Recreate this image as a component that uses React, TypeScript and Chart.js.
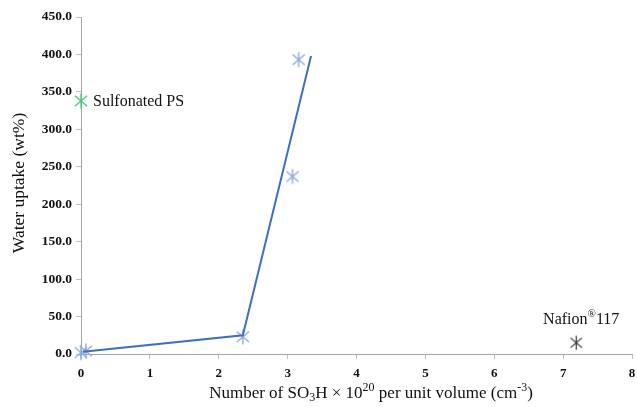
import React, { useEffect, useRef } from "react";
import { Chart, registerables } from "chart.js";

Chart.register(...registerables);

const lineX = [0.03, 2.35, 3.34];
const lineY = [3, 25, 398];
const sampleX = [0, 0.07, 2.35, 3.07, 3.16];
const sampleY = [2, 4, 23, 237, 393];
const psX = [0];
const psY = [338];
const nafionX = [7.19];
const nafionY = [15];
const yTicks = [0, 50, 100, 150, 200, 250, 300, 350, 400, 450];
const xTicks = [0, 1, 2, 3, 4, 5, 6, 7, 8];

const SERIF = "'Liberation Serif', 'Times New Roman', serif";

function makeStar(color: string, r: number, lw: number) {
  const c = document.createElement("canvas");
  const s = Math.ceil(r * 2 + lw * 2);
  c.width = s;
  c.height = s;
  const ctx = c.getContext("2d")!;
  ctx.strokeStyle = color;
  ctx.lineWidth = lw;
  const cx = s / 2;
  const cy = s / 2;
  ctx.beginPath();
  ctx.moveTo(cx, cy - r);
  ctx.lineTo(cx, cy + r);
  const d = r * 0.82;
  ctx.moveTo(cx - d, cy - d * 0.85);
  ctx.lineTo(cx + d, cy + d * 0.85);
  ctx.moveTo(cx + d, cy - d * 0.85);
  ctx.lineTo(cx - d, cy + d * 0.85);
  ctx.stroke();
  return c;
}

type Seg = { t: string; mode?: "sub" | "sup" };

function drawRich(ctx: CanvasRenderingContext2D, segs: Seg[], cx: number, baseline: number, size: number) {
  const small = Math.round(size * 0.68);
  let total = 0;
  for (const s of segs) {
    ctx.font = `${s.mode ? small : size}px ${SERIF}`;
    total += ctx.measureText(s.t).width;
  }
  let x = cx - total / 2;
  ctx.textAlign = "left";
  ctx.textBaseline = "alphabetic";
  for (const s of segs) {
    ctx.font = `${s.mode ? small : size}px ${SERIF}`;
    const dy = s.mode === "sub" ? size * 0.2 : s.mode === "sup" ? -size * 0.4 : 0;
    ctx.fillText(s.t, x, baseline + dy);
    x += ctx.measureText(s.t).width;
  }
}

const annotate = {
  id: "annotate",
  afterDraw(chart: any) {
    const ctx = chart.ctx as CanvasRenderingContext2D;
    const xs = chart.scales.x;
    const ys = chart.scales.y;
    ctx.save();
    ctx.fillStyle = "#111";
    // y title
    ctx.save();
    ctx.translate(19, 183);
    ctx.rotate(-Math.PI / 2);
    ctx.font = `17.5px ${SERIF}`;
    ctx.textAlign = "center";
    ctx.textBaseline = "middle";
    ctx.fillText("Water uptake (wt%)", 0, 0);
    ctx.restore();
    // x title
    drawRich(
      ctx,
      [
        { t: "Number of SO" },
        { t: "3", mode: "sub" },
        { t: "H × 10" },
        { t: "20", mode: "sup" },
        { t: " per unit volume (cm" },
        { t: "-3", mode: "sup" },
        { t: ")" },
      ],
      371,
      398,
      17
    );
    // Sulfonated PS label
    const px = xs.getPixelForValue(psX[0]);
    const py = ys.getPixelForValue(psY[0]);
    ctx.font = `16px ${SERIF}`;
    ctx.textAlign = "left";
    ctx.textBaseline = "middle";
    ctx.fillText("Sulfonated PS", px + 12, py + 1);
    // Nafion label
    const nx = xs.getPixelForValue(nafionX[0]);
    const ny = ys.getPixelForValue(nafionY[0]);
    drawRich(ctx, [{ t: "Nafion" }, { t: "®", mode: "sup" }, { t: "117" }], nx + 5, ny - 19, 16);
    ctx.restore();
  },
};

export default function App() {
  const ref = useRef<HTMLCanvasElement>(null);
  useEffect(() => {
    const blueStar = makeStar("#8ea9dc", 7.5, 1.4);
    const greenStar = makeStar("#4fc878", 7.5, 1.4);
    const blackStar = makeStar("#333333", 7, 1.2);
    const chart = new Chart(ref.current!, {
      type: "scatter",
      data: {
        datasets: [
          {
            data: lineX.map((x, i) => ({ x, y: lineY[i] })),
            showLine: true,
            borderColor: "#3e6fc0",
            borderWidth: 2,
            pointRadius: 0,
            clip: false,
          },
          {
            data: sampleX.map((x, i) => ({ x, y: sampleY[i] })),
            pointStyle: blueStar as any,
            clip: false,
          },
          {
            data: psX.map((x, i) => ({ x, y: psY[i] })),
            pointStyle: greenStar as any,
            clip: false,
          },
          {
            data: nafionX.map((x, i) => ({ x, y: nafionY[i] })),
            pointStyle: blackStar as any,
            clip: false,
          },
        ],
      },
      options: {
        responsive: false,
        animation: false,
        layout: { padding: { left: 0, top: 17, right: 0, bottom: 0 } },
        plugins: { legend: { display: false }, tooltip: { enabled: false } },
        scales: {
          x: {
            type: "linear",
            min: 0,
            max: 8,
            afterBuildTicks: (s: any) => {
              s.ticks = xTicks.map((v) => ({ value: v }));
            },
            afterFit: (s: any) => {
              s.height = 53;
              s.paddingRight = 5;
            },
            ticks: {
              font: { family: SERIF, size: 13, weight: "bold" },
              color: "#111",
              padding: 7,
              maxRotation: 0,
            },
            grid: { drawOnChartArea: false, tickLength: 5, tickColor: "#bfbfbf" },
            border: { color: "#a6a6a6", width: 1 },
          },
          y: {
            type: "linear",
            min: 0,
            max: 450,
            afterBuildTicks: (s: any) => {
              s.ticks = yTicks.map((v) => ({ value: v }));
            },
            afterFit: (s: any) => {
              s.width = 81;
            },
            ticks: {
              font: { family: SERIF, size: 13.5, weight: "bold" },
              color: "#111",
              padding: 4,
              callback: (v: any) => Number(v).toFixed(1),
            },
            grid: { drawOnChartArea: false, tickLength: 5, tickColor: "#bfbfbf" },
            border: { color: "#a6a6a6", width: 1 },
          },
        },
      },
      plugins: [annotate],
    } as any);
    return () => chart.destroy();
  }, []);
  return (
    <div style={{ position: "fixed", left: 0, top: 0, width: 637, height: 407, background: "#fff" }}>
      <canvas ref={ref} width={637} height={407} style={{ display: "block" }} />
    </div>
  );
}
